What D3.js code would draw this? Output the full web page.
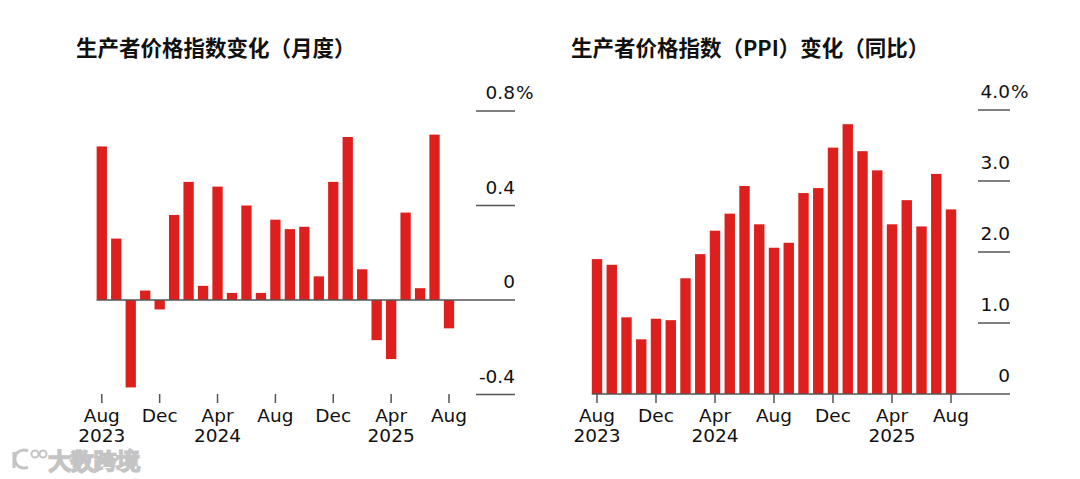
<!DOCTYPE html>
<html>
<head>
<meta charset="utf-8">
<script src="https://cdn.jsdelivr.net/npm/d3@7"></script>
<style>
  body { margin: 0; background: #fff; }
  svg text { font-family: "DejaVu Sans", sans-serif; fill: #111; }
  .title { font-family: "Noto Sans CJK SC", sans-serif; font-weight: 700; font-size: 21.5px; }
</style>
</head>
<body>
<svg width="1080" height="479"></svg>
<script>
// months Aug 2023 .. Aug 2025
const months = d3.range(25).map(i => new Date(2023, 7 + i, 1));

// monthly change, %
const momValues = [0.65, 0.26, -0.37, 0.04, -0.04, 0.36, 0.50, 0.06, 0.48, 0.03, 0.40, 0.03,
  0.34, 0.30, 0.31, 0.10, 0.50, 0.69, 0.13, -0.17, -0.25, 0.37, 0.05, 0.70, -0.12];

// year-over-year change, %
const yoyValues = [1.90, 1.82, 1.08, 0.77, 1.06, 1.04, 1.63, 1.97, 2.30, 2.54, 2.93, 2.39,
  2.06, 2.13, 2.83, 2.90, 3.47, 3.80, 3.42, 3.15, 2.39, 2.73, 2.36, 3.10, 2.60];

const momTicks = [-0.4, 0, 0.4, 0.8];
const yoyTicks = [0, 1.0, 2.0, 3.0, 4.0];
const tickMonths = [0, 4, 8, 12, 16, 20, 24];
const monthNames = ['Jan','Feb','Mar','Apr','May','Jun','Jul','Aug','Sep','Oct','Nov','Dec'];

const red = '#dd1f1d';
const svg = d3.select('svg');

function drawPanel(opt) {
  const g = svg.append('g');

  g.append('text').attr('class', 'title')
    .attr('x', opt.titleX).attr('y', 56)
    .text(opt.title);

  const x = d3.scaleLinear()
    .domain([0, months.length - 1])
    .range([opt.x0, opt.x1]);
  const y = d3.scaleLinear()
    .domain(opt.domain)
    .range(opt.yRange);

  // short gridlines on the right
  g.append('g').selectAll('line')
    .data(opt.ticks.filter(t => t !== 0))
    .enter().append('line')
    .attr('x1', opt.gridX0).attr('x2', opt.gridX1)
    .attr('y1', d => y(d)).attr('y2', d => y(d))
    .attr('stroke', '#555').attr('stroke-width', 1.5);

  g.append('g').selectAll('rect')
    .data(opt.values)
    .enter().append('rect')
    .attr('x', (d, i) => x(i) - opt.barW / 2)
    .attr('width', opt.barW)
    .attr('y', d => Math.min(y(d), y(0)))
    .attr('height', d => Math.abs(y(d) - y(0)))
    .attr('fill', red);

  // zero line
  g.append('line')
    .attr('x1', opt.x0 - opt.barW / 2).attr('x2', opt.gridX1)
    .attr('y1', y(0)).attr('y2', y(0))
    .attr('stroke', '#555').attr('stroke-width', 1.5);

  // y labels
  g.append('g').selectAll('text')
    .data(opt.ticks)
    .enter().append('text')
    .attr('x', opt.gridX1)
    .attr('y', d => y(d) - 12)
    .attr('text-anchor', 'end')
    .attr('font-size', 18.5)
    .text(d => d === 0 ? '0' : d3.format(opt.fmt)(d).replace('−', '-'));

  g.append('text')
    .attr('x', opt.gridX1 + 1)
    .attr('y', y(opt.ticks[opt.ticks.length - 1]) - 12)
    .attr('font-size', 18.5)
    .text('%');

  // x ticks and labels
  const xt = g.append('g').selectAll('g')
    .data(tickMonths)
    .enter().append('g')
    .attr('transform', i => `translate(${x(i)},0)`);
  xt.append('line')
    .attr('y1', 394).attr('y2', 403)
    .attr('stroke', '#555').attr('stroke-width', 1.5);
  xt.append('text')
    .attr('y', 421.5).attr('text-anchor', 'middle')
    .attr('font-size', 18.5)
    .text(i => monthNames[months[i].getMonth()]);
  xt.filter(i => i === 0 || months[i].getMonth() === 3)
    .append('text')
    .attr('y', 442).attr('text-anchor', 'middle')
    .attr('font-size', 18.5)
    .text(i => months[i].getFullYear());
}

drawPanel({
  title: '生产者价格指数变化（月度）',
  titleX: 76,
  values: momValues,
  ticks: momTicks,
  domain: [0, 0.8],
  yRange: [300, 111],
  x0: 101.8, x1: 449,
  barW: 10.3,
  gridX0: 476, gridX1: 515,
  fmt: '.1f'
});

drawPanel({
  title: '生产者价格指数（PPI）变化（同比）',
  titleX: 571,
  values: yoyValues,
  ticks: yoyTicks,
  domain: [0, 4],
  yRange: [394, 110],
  x0: 597, x1: 951,
  barW: 10.4,
  gridX0: 978, gridX1: 1010,
  fmt: '.1f'
});

// watermark
const wm = svg.append('g')
  .attr('fill', '#fff').attr('stroke', '#c4c4c4').attr('stroke-width', 1.6);
wm.append('path')
  .attr('d', 'M14,452 L14,468 M28,451 A9,9 0 1 0 28,467')
  .attr('fill', 'none').attr('stroke-width', 3);
wm.append('circle').attr('cx', 35).attr('cy', 454).attr('r', 3.5).attr('fill', 'none').attr('stroke-width', 2);
wm.append('circle').attr('cx', 43).attr('cy', 454).attr('r', 3.5).attr('fill', 'none').attr('stroke-width', 2);
wm.append('text')
  .attr('x', 48).attr('y', 469)
  .attr('font-family', '"Noto Sans CJK SC", sans-serif')
  .attr('font-size', 23).attr('font-weight', 700)
  .style('fill', '#fff').style('stroke', '#c4c4c4').style('stroke-width', 1.6)
  .text('大数跨境');
</script>
</body>
</html>
